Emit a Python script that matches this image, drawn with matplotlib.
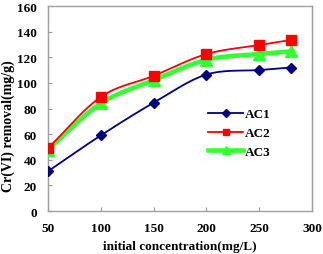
import numpy as np
import matplotlib
matplotlib.use("Agg")
import matplotlib.pyplot as plt
from matplotlib.lines import Line2D

plt.rcParams["font.family"] = ["Liberation Serif", "DejaVu Serif"]
plt.rcParams["font.weight"] = "bold"

conc = [50, 100, 150, 200, 250, 280]
ac1 = [31, 59, 84.5, 106.5, 110, 112]
ac2 = [49, 89, 105.5, 122.5, 129.5, 133.5]
ac3 = [48, 84, 102, 118, 122.5, 124.5]


def smooth(x, y, n=30):
    # Catmull-Rom through the points, like Excel's smoothed line
    x = np.asarray(x, float); y = np.asarray(y, float)
    px = np.r_[2 * x[0] - x[1], x, 2 * x[-1] - x[-2]]
    py = np.r_[2 * y[0] - y[1], y, 2 * y[-1] - y[-2]]
    xs, ys = [], []
    t = np.linspace(0, 1, n)
    for i in range(1, len(px) - 2):
        for p, out in ((px, xs), (py, ys)):
            p0, p1, p2, p3 = p[i - 1:i + 3]
            out.extend(0.5 * (2 * p1 + (-p0 + p2) * t
                              + (2 * p0 - 5 * p1 + 4 * p2 - p3) * t ** 2
                              + (-p0 + 3 * p1 - 3 * p2 + p3) * t ** 3))
    return xs, ys


fig = plt.figure(figsize=(3.23, 2.55), dpi=100)
ax = fig.add_axes([0.1486, 0.1686, 0.8174, 0.8039])

series = [(ac1, "#000080", "D", 5, 1.3, 6, "AC1"),
          (ac2, "#ff0000", "s", 6.5, 1.3, 7, "AC2"),
          (ac3, "#33ff33", "^", 8.5, 3.3, 5, "AC3")]
handles = []
for y, col, mk, ms, lw, z, lab in series:
    sx, sy = smooth(conc, y)
    ax.plot(sx, sy, color=col, lw=lw, zorder=z)
    ax.plot(conc, y, ls="none", marker=mk, ms=ms, color=col, zorder=z)
    handles.append(Line2D([], [], color=col, lw=lw, marker=mk, ms=ms * 0.75, label=lab))

ax.set_xlim(50, 300)
ax.set_ylim(0, 160)
ax.set_xticks(range(50, 301, 50))
ax.set_yticks(range(0, 161, 20))
ax.tick_params(direction="in", length=3, color="#999999", labelsize=9.5, pad=8)
for s in ax.spines.values():
    s.set_color("#a0a0a0")
    s.set_linewidth(1.0)
for lab in ax.get_xticklabels() + ax.get_yticklabels():
    lab.set_fontweight("bold")

ax.set_xlabel("initial concentration(mg/L)", fontsize=9.5, fontweight="bold", labelpad=4)
ax.set_ylabel("Cr(VI) removal(mg/g)", fontsize=10, fontweight="bold")
ax.yaxis.set_label_coords(-0.125, 0.42)

ax.legend(handles=handles, loc="upper left", bbox_to_anchor=(0.56, 0.56),
          frameon=False, handlelength=2.7, handletextpad=0.15,
          labelspacing=0.5, prop={"weight": "bold", "size": 9.5})

fig.savefig("out.png", dpi=100)
